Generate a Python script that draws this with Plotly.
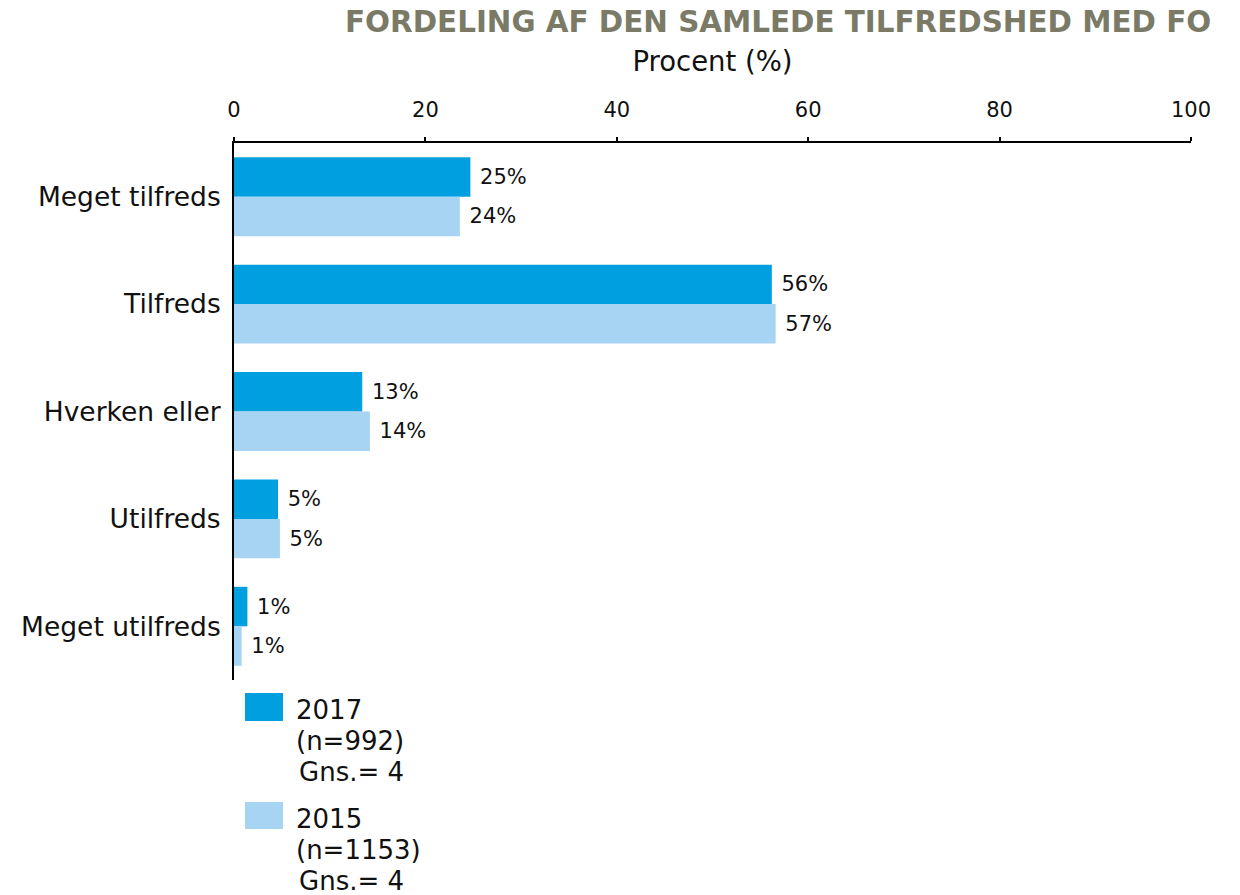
import plotly.graph_objects as go

categories = ["Meget tilfreds", "Tilfreds", "Hverken eller", "Utilfreds", "Meget utilfreds"]
series_names = ["2017", "2015"]
values_2017 = [24.7, 56.2, 13.4, 4.6, 1.4]
values_2015 = [23.6, 56.6, 14.2, 4.8, 0.8]
legend_n = ["(n=992)", "(n=1153)"]
legend_mean = ["Gns.= 4", "Gns.= 4"]
x_ticks = [0, 20, 40, 60, 80, 100]
title_text = "FORDELING AF DEN SAMLEDE TILFREDSHED MED FO"
axis_title = "Procent (%)"

colors = ["#009FE0", "#A8D4F4"]
FONT = "DejaVu Sans"

OFF = 0  # page body margin removed via post_script
W, H = 1240, 895
ML, MR, MT, MB = 234 - OFF, 1240 + OFF - 1191, 143 - OFF, 895 - (680 - OFF)
PW = W - ML - MR
PH = H - MT - MB

fig = go.Figure()
for name, vals, col in zip(series_names, [values_2017, values_2015], colors):
    fig.add_trace(go.Bar(
        y=categories, x=vals, name=name, orientation="h",
        marker=dict(color=col, line=dict(width=0)),
        text=[f" {round(v)}%" for v in vals],
        textposition="outside", cliponaxis=False, constraintext="none",
        textfont=dict(family=FONT, size=21, color="#111111"),
        showlegend=False,
    ))

def px_x(xpx):
    return (xpx - OFF - ML) / PW

def px_y(ypx):
    return (H - MB - (ypx - OFF)) / PH

# manual legend with large swatches
entries = [(693, 721), (802, 829)]
for i, (y0, y1) in enumerate(entries):
    fig.add_shape(type="rect", xref="paper", yref="paper",
                  x0=px_x(245), x1=px_x(283),
                  y0=px_y(y1), y1=px_y(y0), fillcolor=colors[i], line=dict(width=0))
    lines = [series_names[i], legend_n[i], legend_mean[i]]
    xs = [294, 294, 297]
    for j, t in enumerate(lines):
        fig.add_annotation(text=t, xref="paper", yref="paper",
                           x=px_x(xs[j]), y=px_y(y0 + 17 + 31 * j),
                           xanchor="left", yanchor="middle", showarrow=False,
                           font=dict(family=FONT, size=26, color="#111111"))

fig.update_layout(
    width=W, height=H,
    margin=dict(l=ML, r=MR, t=MT, b=MB),
    paper_bgcolor="white", plot_bgcolor="white",
    barmode="group", bargap=0.265, bargroupgap=0,
    title=dict(text=title_text, xref="container", yref="container",
               x=(345 - OFF) / W, xanchor="left", y=1 - (22 - OFF) / H, yanchor="middle",
               font=dict(family=FONT, size=29.4, color="#7a7a66", weight="bold")),
    xaxis=dict(side="top", range=[0, 100], tickvals=x_ticks,
               showline=True, linecolor="black", linewidth=2,
               ticks="outside", ticklen=4, tickwidth=2, tickcolor="black",
               showgrid=False, zeroline=False, ticklabelstandoff=12,
               tickfont=dict(family=FONT, size=21, color="#111111"),
               title=dict(text=axis_title, standoff=18,
                          font=dict(family=FONT, size=27.5, color="#111111"))),
    yaxis=dict(autorange="reversed", showline=True, linecolor="black", linewidth=2,
               ticks="", showgrid=False, zeroline=False, ticklabelstandoff=6,
               tickfont=dict(family=FONT, size=26.5, color="#111111")),
)

fig.write_html("out.html", config={"displayModeBar": False},
               post_script="document.body.style.margin='0';")
